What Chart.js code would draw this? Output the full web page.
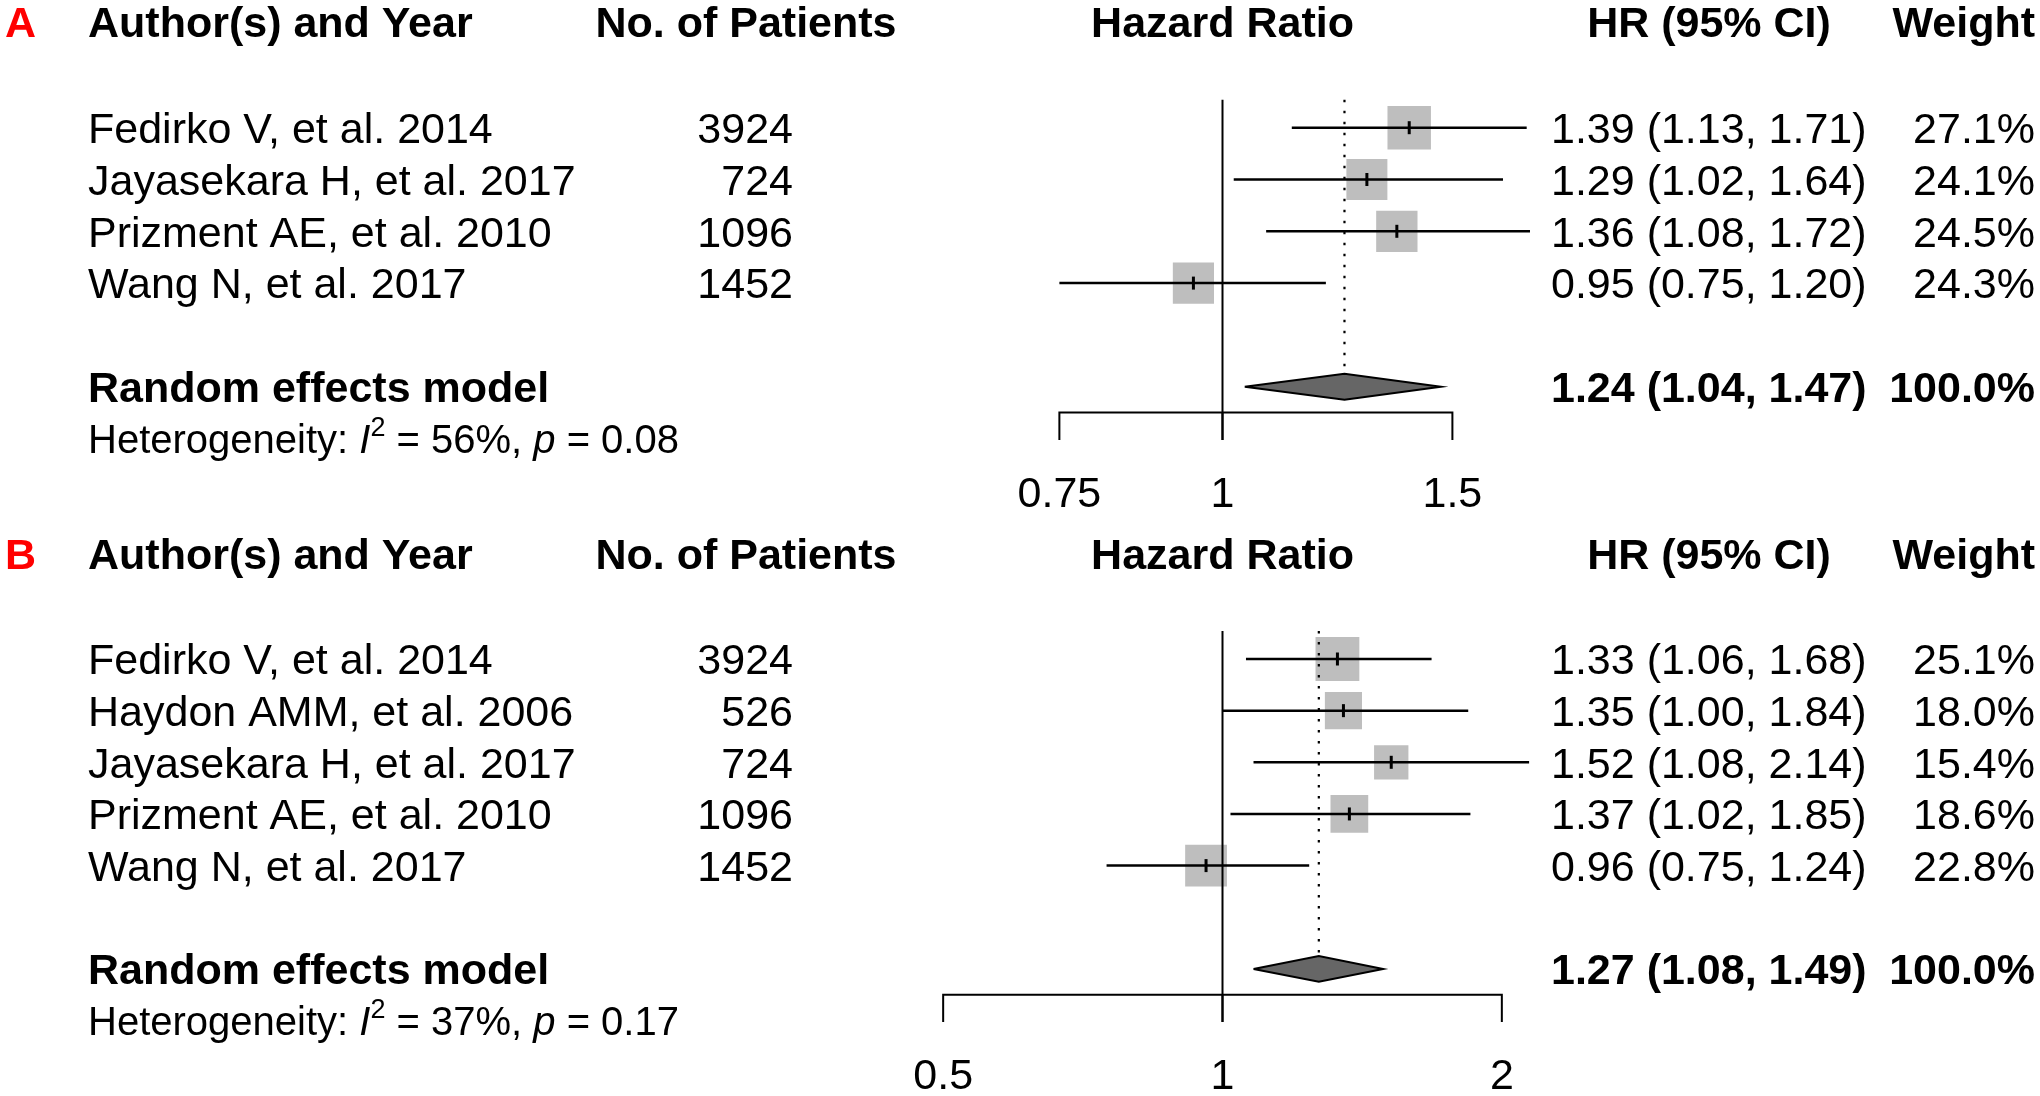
<!DOCTYPE html>
<html>
<head>
<meta charset="utf-8">
<script src="https://cdn.jsdelivr.net/npm/chart.js@4.4.1/dist/chart.umd.min.js"></script>
<style>
html,body{margin:0;padding:0;background:#ffffff;overflow:hidden;}
#wrap{position:relative;width:2040px;height:1096px;background:#ffffff;}
canvas{position:absolute;left:0;}
</style>
</head>
<body>
<div id="wrap">
<canvas id="cA" width="2040" height="530" style="top:0px;width:2040px;height:530px"></canvas>
<canvas id="cB" width="2040" height="566" style="top:530px;width:2040px;height:566px"></canvas>
</div>
<script>
// ---------------- DATA ----------------
const headerLabels = ['Author(s) and Year', 'No. of Patients', 'Hazard Ratio', 'HR (95% CI)', 'Weight'];
const summaryLabel = 'Random effects model';

// Panel A
const letterA = 'A';
const studiesA = ['Fedirko V, et al. 2014', 'Jayasekara H, et al. 2017', 'Prizment AE, et al. 2010', 'Wang N, et al. 2017'];
const patientsA = [3924, 724, 1096, 1452];
const hrA = [1.39, 1.29, 1.36, 0.95];
const lowerA = [1.13, 1.02, 1.08, 0.75];
const upperA = [1.71, 1.64, 1.72, 1.20];
const weightA = [27.1, 24.1, 24.5, 24.3];
const pooledA = [1.24, 1.04, 1.47];   // HR, lower, upper
const pooledWeightA = 100.0;
const i2A = 56;
const pA = '0.08';
const ticksA = [0.75, 1, 1.5];

// Panel B
const letterB = 'B';
const studiesB = ['Fedirko V, et al. 2014', 'Haydon AMM, et al. 2006', 'Jayasekara H, et al. 2017', 'Prizment AE, et al. 2010', 'Wang N, et al. 2017'];
const patientsB = [3924, 526, 724, 1096, 1452];
const hrB = [1.33, 1.35, 1.52, 1.37, 0.96];
const lowerB = [1.06, 1.00, 1.08, 1.02, 0.75];
const upperB = [1.68, 1.84, 2.14, 1.85, 1.24];
const weightB = [25.1, 18.0, 15.4, 18.6, 22.8];
const pooledB = [1.27, 1.08, 1.49];
const pooledWeightB = 100.0;
const i2B = 37;
const pB = '0.17';
const ticksB = [0.5, 1, 2];

// ---------------- LAYOUT ----------------
const W = 2040;
const FONT = "'Liberation Sans', Arial, Helvetica, sans-serif";
const layoutA = { h: 530, row0: 127.7, unit: 51.8, x1: 1222.5, pxPerLn: 567, sq: 8.35 };
const layoutB = { h: 566, row0: 129.0, unit: 51.65, x1: 1222.5, pxPerLn: 403, sq: 8.75 };

const COL = {
  letter: 5, study: 88, patientsHdr: 746, patients: 793,
  hrHdr: 1709, hr: 1551, weight: 2035
};
const FS = 43, FS_HET = 40, FS_SUP = 27;

function makeTextPlugin(d, L) {
  return {
    id: 'forestText' + d.letter,
    afterDraw(chart) {
      const ctx = chart.ctx;
      const xs = chart.scales.x, ys = chart.scales.y;
      const n = d.studies.length;
      const sRow = n + 1;
      const put = (txt, x, row, size, weight, align, color, style) => {
        ctx.save();
        ctx.font = (style || 'normal') + ' ' + (weight || 'normal') + ' ' + size + 'px ' + FONT;
        ctx.fillStyle = color || '#000000';
        ctx.textAlign = align || 'left';
        ctx.textBaseline = 'alphabetic';
        ctx.fillText(txt, x, ys.getPixelForValue(row) + 0.716 * size / 2);
        ctx.restore();
      };
      const hdrRow = -2.05;
      put(d.letter, COL.letter, hdrRow, FS, 'bold', 'left', '#ff0000');
      put(headerLabels[0], COL.study, hdrRow, FS, 'bold', 'left');
      put(headerLabels[1], COL.patientsHdr, hdrRow, FS, 'bold', 'center');
      put(headerLabels[2], xs.getPixelForValue(1), hdrRow, FS, 'bold', 'center');
      put(headerLabels[3], COL.hrHdr, hdrRow, FS, 'bold', 'center');
      put(headerLabels[4], COL.weight, hdrRow, FS, 'bold', 'right');

      const ci = (h, l, u) => h.toFixed(2) + ' (' + l.toFixed(2) + ', ' + u.toFixed(2) + ')';
      for (let i = 0; i < n; i++) {
        put(d.studies[i], COL.study, i, FS, 'normal', 'left');
        put(String(d.patients[i]), COL.patients, i, FS, 'normal', 'right');
        put(ci(d.hr[i], d.lower[i], d.upper[i]), COL.hr, i, FS, 'normal', 'left');
        put(d.weight[i].toFixed(1) + '%', COL.weight, i, FS, 'normal', 'right');
      }
      put(summaryLabel, COL.study, sRow, FS, 'bold', 'left');
      put(ci(d.pooled[0], d.pooled[1], d.pooled[2]), COL.hr, sRow, FS, 'bold', 'left');
      put(d.pooledWeight.toFixed(1) + '%', COL.weight, sRow, FS, 'bold', 'right');

      // heterogeneity line with italic I, superscript 2, italic p
      const hRow = sRow + 1;
      const base = ys.getPixelForValue(hRow) + 0.716 * FS_HET / 2;
      const parts = [
        { t: 'Heterogeneity: ', f: 'normal normal ' + FS_HET + 'px ' + FONT, dy: 0 },
        { t: 'I', f: 'italic normal ' + FS_HET + 'px ' + FONT, dy: 0 },
        { t: '2', f: 'normal normal ' + FS_SUP + 'px ' + FONT, dy: -17 },
        { t: ' = ' + d.i2 + '%, ', f: 'normal normal ' + FS_HET + 'px ' + FONT, dy: 0 },
        { t: 'p', f: 'italic normal ' + FS_HET + 'px ' + FONT, dy: 0 },
        { t: ' = ' + d.p, f: 'normal normal ' + FS_HET + 'px ' + FONT, dy: 0 }
      ];
      ctx.save();
      ctx.fillStyle = '#000000';
      ctx.textAlign = 'left';
      ctx.textBaseline = 'alphabetic';
      let x = COL.study;
      for (const p of parts) {
        ctx.font = p.f;
        ctx.fillText(p.t, x, base + p.dy);
        x += ctx.measureText(p.t).width;
      }
      ctx.restore();

      // tick labels
      const axY = sRow + 0.5;
      for (const t of d.ticks) {
        put(String(t), xs.getPixelForValue(t), axY + 1.53, FS, 'normal', 'center');
      }
    }
  };
}

function forest(canvasId, d, L) {
  const n = d.studies.length;
  const sRow = n + 1;
  const axY = sRow + 0.5;
  const tickLen = 0.53;
  const topY = -0.54;
  const half = 0.25;
  const xmin = Math.exp(-L.x1 / L.pxPerLn);
  const xmax = Math.exp((W - L.x1) / L.pxPerLn);
  const ymin = -L.row0 / L.unit;
  const ymax = ymin + L.h / L.unit;

  const seg = (pts, extra) => Object.assign({
    type: 'line', data: pts, borderColor: '#000000', borderWidth: 2,
    pointRadius: 0, fill: false, tension: 0, borderCapStyle: 'butt', order: 2
  }, extra || {});

  const datasets = [];
  // squares (size ~ sqrt(weight))
  datasets.push({
    type: 'scatter',
    data: d.hr.map((v, i) => ({ x: v, y: i })),
    pointStyle: 'rect',
    pointRadius: d.weight.map(w => L.sq * Math.sqrt(w) / Math.SQRT2),
    backgroundColor: '#bebebe', borderWidth: 0, order: 6
  });
  // reference line at 1 (down through axis tick)
  datasets.push(seg([{ x: 1, y: topY }, { x: 1, y: axY + tickLen }], { order: 4 }));
  // dotted line at pooled estimate
  datasets.push(seg([{ x: d.pooled[0], y: topY }, { x: d.pooled[0], y: sRow - half }],
    { borderDash: [2.5, 8.5], borderWidth: 2.2, order: 4 }));
  // confidence intervals
  for (let i = 0; i < n; i++) {
    datasets.push(seg([{ x: d.lower[i], y: i }, { x: d.upper[i], y: i }], { borderWidth: 2.5, order: 2 }));
  }
  // point estimate tick marks
  datasets.push({
    type: 'scatter',
    data: d.hr.map((v, i) => ({ x: v, y: i })),
    pointStyle: 'line', rotation: 90, pointRadius: 6.5,
    borderColor: '#000000', borderWidth: 3, order: 1
  });
  // diamond for pooled estimate
  datasets.push(seg([
    { x: d.pooled[1], y: sRow }, { x: d.pooled[0], y: sRow - half },
    { x: d.pooled[2], y: sRow }, { x: d.pooled[0], y: sRow + half },
    { x: d.pooled[1], y: sRow }
  ], { fill: 'shape', backgroundColor: '#666666', borderWidth: 2, borderJoinStyle: 'miter', order: 3 }));
  // x axis line with end ticks
  const t0 = d.ticks[0], tN = d.ticks[d.ticks.length - 1];
  datasets.push(seg([{ x: t0, y: axY + tickLen }, { x: t0, y: axY }, { x: tN, y: axY }, { x: tN, y: axY + tickLen }],
    { borderJoinStyle: 'miter', order: 4 }));
  for (const t of d.ticks.slice(1, -1)) {
    datasets.push(seg([{ x: t, y: axY }, { x: t, y: axY + tickLen }], { order: 4 }));
  }

  return new Chart(document.getElementById(canvasId), {
    type: 'scatter',
    data: { datasets },
    options: {
      responsive: false,
      maintainAspectRatio: false,
      animation: false,
      devicePixelRatio: 1,
      events: [],
      layout: { padding: 0, autoPadding: false },
      plugins: { legend: { display: false }, tooltip: { enabled: false } },
      scales: {
        x: { type: 'logarithmic', display: false, min: xmin, max: xmax, bounds: 'data' },
        y: { type: 'linear', display: false, reverse: true, min: ymin, max: ymax, bounds: 'data' }
      }
    },
    plugins: [makeTextPlugin(d, L)]
  });
}

forest('cA', {
  letter: letterA, studies: studiesA, patients: patientsA, hr: hrA, lower: lowerA, upper: upperA,
  weight: weightA, pooled: pooledA, pooledWeight: pooledWeightA, i2: i2A, p: pA, ticks: ticksA
}, layoutA);

forest('cB', {
  letter: letterB, studies: studiesB, patients: patientsB, hr: hrB, lower: lowerB, upper: upperB,
  weight: weightB, pooled: pooledB, pooledWeight: pooledWeightB, i2: i2B, p: pB, ticks: ticksB
}, layoutB);
</script>
</body>
</html>
